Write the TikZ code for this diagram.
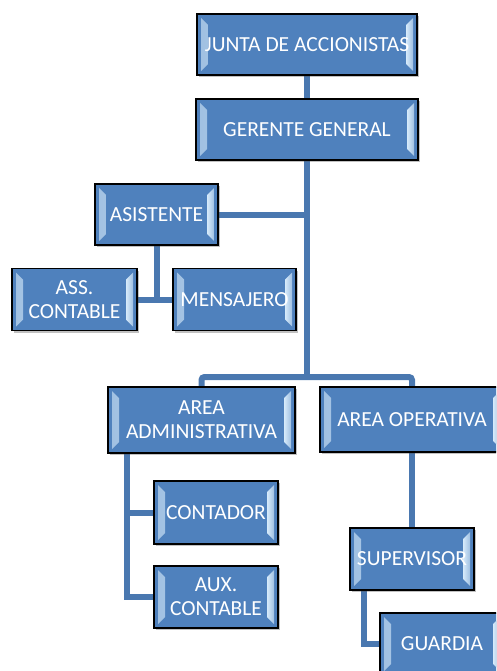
\documentclass[tikz,border=0pt]{standalone}
\usepackage{fontspec}
\setmainfont{Carlito}
\usetikzlibrary{shadows,backgrounds}
\definecolor{boxblue}{HTML}{4F81BD}
\definecolor{linkblue}{HTML}{4A78B0}
\definecolor{bevel}{HTML}{D6EAFA}
\tikzset{
  cargo/.style={draw=black, line width=1.8pt, fill=boxblue, text=white, align=center, inner sep=0pt,
    font=\fontsize{21.5}{24}\selectfont,
    drop shadow={shadow xshift=1.5pt, shadow yshift=-2pt, opacity=0.35, fill=black!70},
    path picture={
      \fill[left color=bevel!60!boxblue, right color=bevel]
        ([shift={(4pt,-4pt)}]path picture bounding box.north west) -- ([shift={(11pt,-11pt)}]path picture bounding box.north west)
        -- ([shift={(11pt,11pt)}]path picture bounding box.south west) -- ([shift={(4pt,4pt)}]path picture bounding box.south west) -- cycle;
      \fill[right color=bevel!60!boxblue, left color=bevel]
        ([shift={(-4pt,-4pt)}]path picture bounding box.north east) -- ([shift={(-11pt,-11pt)}]path picture bounding box.north east)
        -- ([shift={(-11pt,11pt)}]path picture bounding box.south east) -- ([shift={(-4pt,4pt)}]path picture bounding box.south east) -- cycle;
    }},
  enlace/.style={draw=linkblue, line width=6pt}
}
\begin{document}
\begin{tikzpicture}[x=1pt, y=-1pt]
        \useasboundingbox (0,0) rectangle (496,671);
        \clip (0,0) rectangle (496,671);
        \node[cargo, minimum width=220pt, minimum height=61pt] (1) at (307,44.5) {JUNTA DE ACCIONISTAS};
        \node[cargo, minimum width=222pt, minimum height=61pt] (2) at (307,129.5) {GERENTE GENERAL};
        \node[cargo, minimum width=123pt, minimum height=61pt] (3) at (156.5,214.5) {ASISTENTE};
        \node[cargo, minimum width=125pt, minimum height=62pt] (4) at (74.5,299.5) {ASS.\\CONTABLE};
        \node[cargo, minimum width=123pt, minimum height=62pt] (5) at (234.5,299.5) {MENSAJERO};
        \node[cargo, minimum width=187pt, minimum height=66pt] (6) at (201.5,420) {AREA\\ADMINISTRATIVA};
        \node[cargo, minimum width=184pt, minimum height=65pt] (7) at (412,419.5) {AREA OPERATIVA};
        \node[cargo, minimum width=124pt, minimum height=63pt] (8) at (216,512.5) {CONTADOR};
        \node[cargo, minimum width=124pt, minimum height=62pt] (9) at (216,597) {AUX.\\CONTABLE};
        \node[cargo, minimum width=124pt, minimum height=62pt] (10) at (412,559) {SUPERVISOR};
        \node[cargo, minimum width=124pt, minimum height=62pt] (11) at (442,644) {GUARDIA};

        \coordinate (b1) at (307,377);
        \coordinate (c1) at (127,453);
        \coordinate (c2) at (364,590);

        \begin{scope}[on background layer]
        \draw[enlace] (1) -- (2);
        \draw[enlace] (2) -- (b1);
        \draw[enlace] (3) -- (3 -| 2);
        \draw[enlace] (3) -- (3 |- 4);
        \draw[enlace] (4) -- (5);
        \draw[enlace, rounded corners=3pt] (6) |- (b1) -| (7);
        \draw[enlace] (c1) |- (9);
        \draw[enlace] (c1 |- 8) -- (8);
        \draw[enlace] (7) -- (10);
        \draw[enlace] (c2) |- (11);
        \end{scope}
      \end{tikzpicture}
\end{document}
